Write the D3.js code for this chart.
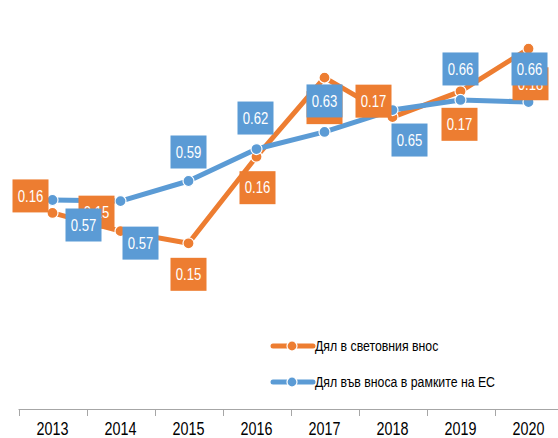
<!DOCTYPE html>
<html>
<head>
<meta charset="utf-8">
<script src="https://cdn.jsdelivr.net/npm/d3@7"></script>
<style>
  body { margin: 0; background: #fff; }
  text { font-family: "Liberation Sans", Arial, sans-serif; }
</style>
</head>
<body>
<div id="chart"></div>
<script>
// data
var years = ["2013", "2014", "2015", "2016", "2017", "2018", "2019", "2020"];
var worldShare = [0.1558, 0.1534, 0.1518, 0.1632, 0.1736, 0.1684, 0.1718, 0.1774];
var euShare = [0.572, 0.571, 0.589, 0.6176, 0.6329, 0.6525, 0.6615, 0.6597];
var seriesNames = ["Дял в световния внос", "Дял във вноса в рамките на ЕС"];

// label box offsets from the point (hand placed like in the original)
var worldLabelOffset = [[-22, -17], [-24, -19], [0, 31], [1, 31], [0, 30], [-19, -16], [-1, 33], [2, 35]];
var euLabelOffset = [[31, 25], [20, 42], [0, -29], [-1, -31], [0, -31], [17, 30], [0, -31], [1, -33]];

var width = 558, height = 438;
var orange = "#ED7D31", blue = "#5B9BD5";
var squeeze = 0.82; // narrow the font like the Calibri original

var svg = d3.select("#chart").append("svg")
    .attr("width", width)
    .attr("height", height);

var x = d3.scaleBand()
    .domain(years)
    .range([18.5, 562.5]);

var yWorld = d3.scaleLinear().domain([0.13, 0.18]).range([409, 29]);
var yEu = d3.scaleLinear().domain([0.385, 0.725]).range([409, 29]);

// narrow text placed at (px, py)
function narrowText(sel, px, py) {
    return sel.append("g")
        .attr("transform", function(d, i) {
            var a = typeof px === "function" ? px(d, i) : px;
            var b = typeof py === "function" ? py(d, i) : py;
            return "translate(" + a + "," + b + ")";
        })
        .append("text")
        .attr("transform", "scale(" + squeeze + ",1)");
}

// x axis, ticks between categories
var axis = svg.append("g");
axis.append("line")
    .attr("x1", x.range()[0]).attr("x2", width)
    .attr("y1", 409.5).attr("y2", 409.5)
    .attr("stroke", "#a6a6a6");
axis.selectAll(".tk")
    .data(years)
    .enter().append("line")
    .attr("class", "tk")
    .attr("x1", function(d) { return Math.round(x(d)) + 0.5; })
    .attr("x2", function(d) { return Math.round(x(d)) + 0.5; })
    .attr("y1", 409).attr("y2", 416)
    .attr("stroke", "#a6a6a6");
var yr = axis.selectAll(".yr")
    .data(years)
    .enter().append("g")
    .attr("class", "yr");
narrowText(yr, function(d) { return x(d) + x.bandwidth() / 2; }, 435)
    .attr("text-anchor", "middle")
    .style("font-size", "17.5px")
    .attr("fill", "#000")
    .text(function(d) { return d; });

function cx(i) { return x(years[i]) + x.bandwidth() / 2; }

function drawSeries(values, yScale, color) {
    var line = d3.line()
        .x(function(d, i) { return cx(i); })
        .y(function(d) { return yScale(d); });
    svg.append("path")
        .datum(values)
        .attr("d", line)
        .attr("fill", "none")
        .attr("stroke", color)
        .attr("stroke-width", 5)
        .attr("stroke-linejoin", "round");
    svg.append("g").selectAll("circle")
        .data(values)
        .enter().append("circle")
        .attr("cx", function(d, i) { return cx(i); })
        .attr("cy", function(d) { return yScale(d); })
        .attr("r", 5.5)
        .attr("fill", color)
        .attr("stroke", "#fff")
        .attr("stroke-width", 1.2);
}

function drawLabels(values, yScale, color, offsets) {
    var g = svg.append("g").selectAll("g")
        .data(values)
        .enter().append("g")
        .attr("transform", function(d, i) {
            return "translate(" + (cx(i) + offsets[i][0]) + "," + (yScale(d) + offsets[i][1]) + ")";
        });
    g.append("rect")
        .attr("x", -18).attr("y", -16.5)
        .attr("width", 36).attr("height", 33)
        .attr("fill", color);
    narrowText(g, 0, 0)
        .attr("text-anchor", "middle")
        .attr("dy", "0.36em")
        .attr("fill", "#fff")
        .style("font-size", "16px")
        .text(function(d) { return d3.format(".2f")(d); });
}

drawSeries(worldShare, yWorld, orange);
drawSeries(euShare, yEu, blue);
drawLabels(worldShare, yWorld, orange, worldLabelOffset);
drawLabels(euShare, yEu, blue, euLabelOffset);

// legend
var legend = svg.append("g")
    .selectAll("g")
    .data(seriesNames)
    .enter().append("g")
    .attr("transform", function(d, i) { return "translate(273," + (346 + i * 36) + ")"; });
legend.append("line")
    .attr("x1", 0).attr("x2", 40)
    .attr("stroke", function(d, i) { return i === 0 ? orange : blue; })
    .attr("stroke-width", 5)
    .attr("stroke-linecap", "round");
legend.append("circle")
    .attr("cx", 19).attr("r", 5)
    .attr("fill", function(d, i) { return i === 0 ? orange : blue; })
    .attr("stroke", "#fff")
    .attr("stroke-width", 1.2);
narrowText(legend, 42, 0)
    .attr("dy", "0.36em")
    .style("font-size", "15px")
    .attr("fill", "#000")
    .text(function(d) { return d; });
</script>
</body>
</html>
